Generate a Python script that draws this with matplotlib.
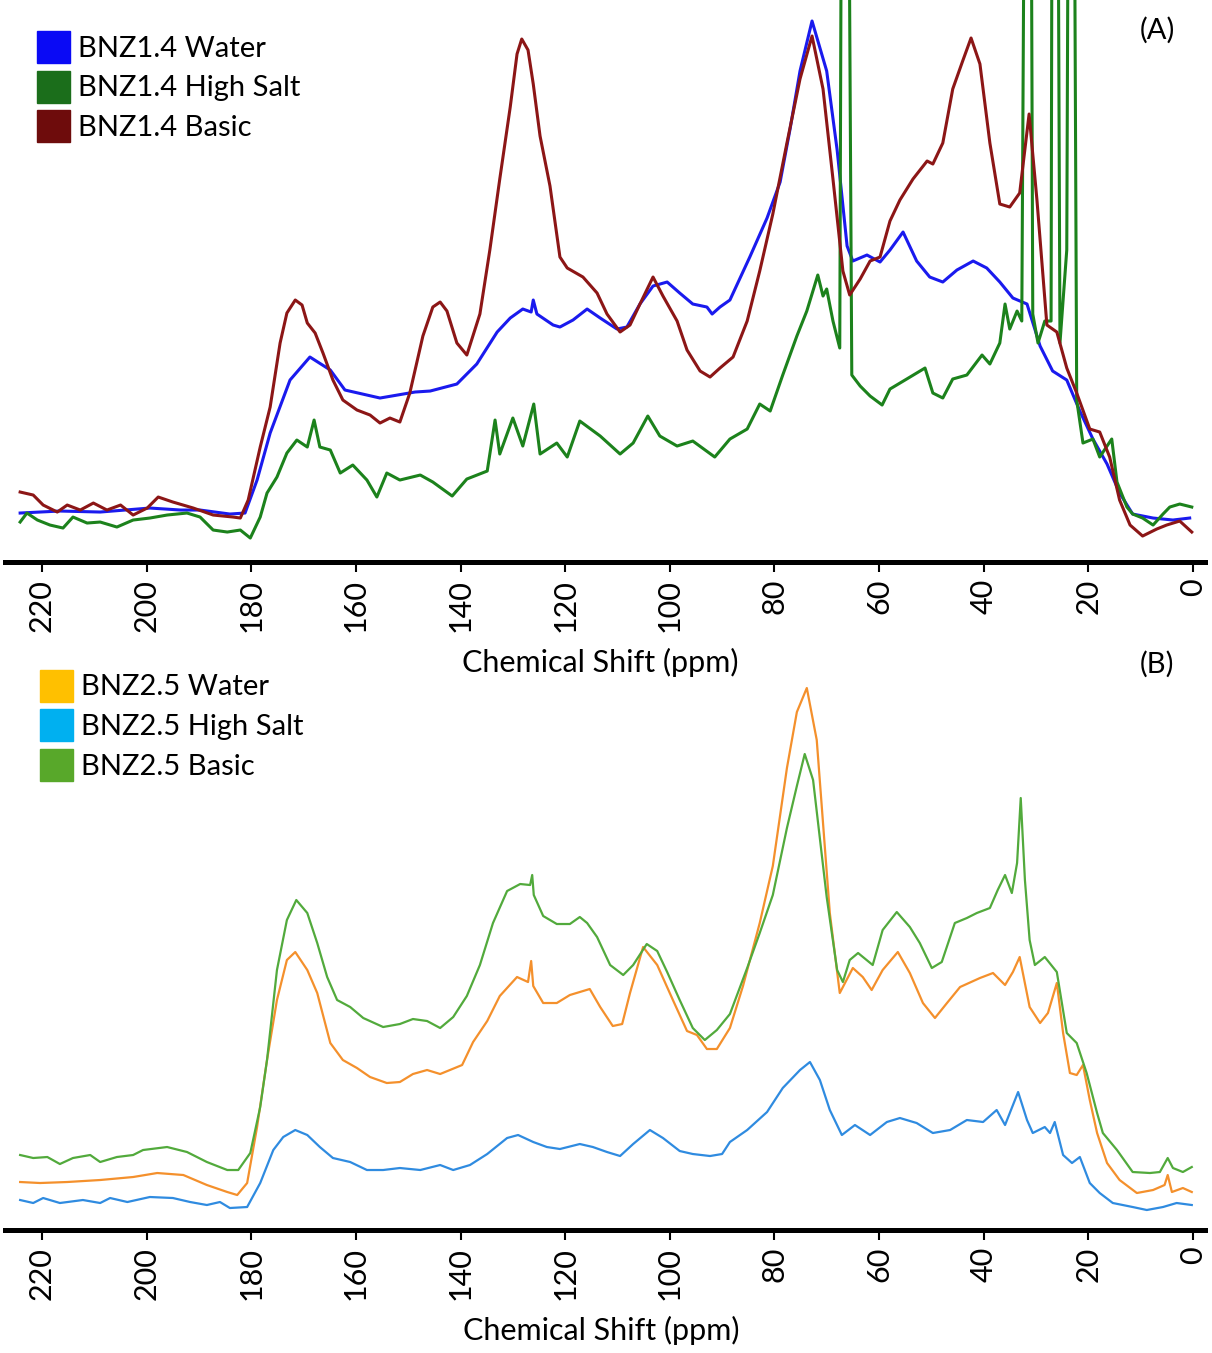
import matplotlib.pyplot as plt
from matplotlib.patches import Patch

plt.rcParams['font.family'] = ['Lato', 'DejaVu Sans']

### (A) BNZ1.4 spectra: chemical shift (ppm) and intensity (a.u.)
a_water_ppm = [224.2, 216.6, 208.9, 199.4, 193.5, 189.8, 184.1, 181.2, 178.9, 176.4,
               172.6, 168.8, 164.9, 162.1, 155.4, 148.7, 145.8, 140.7, 136.9, 133.0,
               130.5, 128.1, 126.5, 126.1, 125.4, 122.3, 121.0, 118.5, 115.8, 113.3,
               110.1, 108.2, 105.7, 103.2, 100.5, 98.1, 95.6, 92.9, 91.9, 90.4,
               88.5, 84.7, 81.4, 78.9, 77.0, 75.1, 72.8, 70.0, 68.0, 66.1,
               65.0, 62.3, 59.8, 57.9, 55.4, 52.8, 50.3, 47.8, 45.1, 42.0,
               39.4, 36.9, 34.4, 31.7, 29.2, 26.8, 24.1, 21.6, 19.1, 16.4,
               14.0, 11.5, 7.6, 3.8, 0.6]
a_water_int = [49, 51, 50, 54, 52, 52, 48, 49, 82, 129,
               182, 205, 192, 172, 164, 170, 171, 178, 198, 230,
               244, 253, 250, 262, 248, 237, 235, 242, 253, 244,
               233, 235, 258, 276, 280, 269, 258, 255, 248, 255,
               262, 305, 344, 380, 433, 491, 541, 491, 412, 316,
               301, 307, 300, 312, 330, 301, 285, 280, 292, 301,
               294, 280, 264, 258, 216, 191, 182, 151, 123, 98,
               69, 48, 44, 42, 44]

a_salt_ppm = [224.2, 222.9, 220.9, 218.5, 216.0, 214.1, 211.4, 208.9, 205.7, 202.6,
              199.4, 196.1, 192.3, 189.8, 187.3, 184.6, 182.1, 180.2, 178.3, 177.0,
              175.1, 173.2, 171.3, 169.3, 168.0, 166.9, 164.9, 163.0, 160.6, 157.9,
              156.0, 154.1, 151.6, 147.7, 145.3, 141.6, 138.8, 134.9, 133.4, 132.5,
              130.0, 128.1, 126.0, 124.8, 121.6, 119.6, 117.2, 113.3, 109.5, 107.0,
              104.2, 101.9, 98.6, 95.6, 91.4, 88.5, 85.2, 82.8, 80.8, 78.4,
              75.7, 73.8, 71.7, 70.7, 70.0, 68.8, 67.5, 67.0, 66.1, 65.2,
              63.6, 61.7, 59.4, 57.9, 54.7, 51.2, 49.7, 47.8, 45.9, 43.2,
              40.3, 38.8, 36.9, 35.9, 35.0, 33.6, 32.7, 31.9, 31.1, 30.6,
              29.6, 28.3, 27.1, 26.8, 26.0, 25.4, 24.1, 23.6, 22.9, 22.2,
              21.0, 19.1, 17.8, 15.5, 14.5, 12.6, 11.5, 9.6, 7.6, 5.7,
              4.4, 2.5, 0.2]
a_salt_int = [40, 49, 42, 37, 34, 45, 39, 40, 35, 42,
              44, 47, 49, 45, 32, 30, 32, 24, 45, 69,
              85, 109, 122, 115, 142, 115, 112, 89, 97, 82,
              65, 89, 82, 87, 80, 66, 83, 91, 142, 108,
              144, 116, 158, 108, 119, 105, 141, 126, 108, 119,
              146, 126, 116, 121, 105, 123, 133, 158, 151, 187,
              226, 251, 287, 266, 273, 241, 214, 1000, 1000, 187,
              176, 166, 157, 173, 183, 194, 169, 164, 183, 187,
              207, 198, 219, 258, 233, 251, 241, 1000, 1000, 248,
              219, 241, 241, 1000, 1000, 219, 312, 1000, 1000, 162,
              119, 123, 105, 123, 80, 55, 48, 44, 37, 48,
              55, 58, 55]

a_basic_ppm = [224.2, 221.7, 219.8, 217.1, 215.2, 212.7, 210.2, 207.6, 205.0, 202.6,
               199.9, 197.8, 195.0, 191.1, 187.3, 183.5, 182.1, 180.6, 178.3, 176.4,
               174.5, 173.2, 171.6, 170.3, 169.3, 167.8, 166.3, 164.4, 162.5, 159.8,
               157.3, 155.4, 153.5, 151.6, 149.7, 147.2, 145.3, 143.9, 142.6, 140.7,
               138.8, 136.3, 134.4, 132.5, 130.5, 129.2, 128.3, 127.1, 126.1, 124.8,
               122.9, 121.0, 119.6, 116.6, 113.9, 112.0, 109.5, 107.6, 105.7, 103.2,
               101.3, 98.6, 96.7, 94.2, 92.3, 90.4, 87.9, 85.2, 82.8, 80.3,
               77.6, 75.1, 72.8, 70.7, 68.8, 66.9, 65.6, 63.6, 61.7, 59.8,
               57.9, 56.0, 53.5, 50.8, 49.7, 47.8, 45.9, 44.0, 42.4, 40.7,
               38.8, 36.9, 35.0, 33.1, 31.3, 29.8, 27.9, 26.0, 24.1, 22.2,
               19.7, 17.8, 15.9, 14.0, 12.0, 9.6, 6.9, 5.0, 2.5, 0.2]
a_basic_int = [70, 67, 57, 50, 57, 52, 59, 52, 57, 47,
               54, 65, 60, 54, 47, 45, 44, 62, 115, 155,
               219, 249, 262, 257, 239, 229, 209, 182, 162, 152,
               147, 139, 144, 140, 169, 226, 255, 260, 251, 219,
               207, 248, 312, 383, 455, 508, 523, 512, 478, 426,
               376, 305, 294, 285, 269, 248, 230, 237, 258, 285,
               266, 241, 212, 191, 185, 194, 205, 241, 291, 348,
               419, 483, 526, 473, 383, 291, 267, 283, 301, 305,
               341, 362, 383, 401, 398, 419, 473, 501, 524, 498,
               419, 358, 355, 369, 448, 362, 237, 230, 194, 169,
               133, 130, 105, 62, 37, 26, 33, 37, 41, 30]

### (B) BNZ2.5 spectra
b_water_ppm = [224.2, 220.4, 215.2, 208.9, 202.6, 198.0, 193.0, 188.5, 184.6, 182.7,
               180.8, 178.9, 177.0, 175.1, 173.2, 171.6, 169.3, 167.4, 164.9, 162.5,
               159.8, 157.3, 154.1, 151.6, 149.1, 146.4, 143.9, 139.7, 137.6, 134.9,
               132.5, 129.2, 127.1, 126.5, 126.1, 124.2, 121.6, 119.1, 115.3, 113.3,
               110.9, 109.1, 107.6, 105.1, 102.4, 99.4, 96.7, 94.8, 92.9, 91.0,
               88.5, 86.0, 82.8, 80.3, 77.6, 75.7, 73.8, 71.9, 69.4, 67.5,
               65.0, 63.1, 61.4, 59.3, 56.4, 54.1, 51.6, 49.3, 47.0, 44.5,
               40.7, 38.2, 35.9, 34.4, 33.1, 31.2, 29.2, 27.7, 26.0, 24.8,
               23.5, 22.2, 21.0, 19.7, 18.3, 16.4, 14.0, 10.7, 7.6, 5.4,
               4.8, 4.0, 1.9, 0.2]
b_water_int = [48, 47, 48, 50, 53, 57, 55, 45, 38, 35,
               47, 103, 170, 230, 270, 278, 260, 237, 187, 170,
               162, 153, 147, 148, 156, 160, 156, 165, 188, 209,
               234, 253, 248, 269, 244, 227, 227, 235, 241, 223,
               204, 206, 237, 283, 265, 230, 199, 195, 181, 181,
               202, 244, 307, 364, 462, 518, 542, 490, 317, 237,
               262, 253, 240, 260, 278, 257, 227, 212, 227, 243,
               252, 257, 245, 258, 273, 223, 207, 217, 247, 197,
               157, 155, 165, 130, 97, 67, 50, 37, 40, 45,
               55, 38, 42, 38]

b_salt_ppm = [224.2, 221.7, 219.8, 216.6, 212.2, 208.9, 207.0, 203.7, 199.4, 195.0,
              191.7, 188.5, 186.0, 184.1, 180.8, 178.3, 175.8, 173.9, 171.6, 169.3,
              166.9, 164.4, 161.1, 157.9, 154.8, 151.6, 147.7, 143.9, 141.4, 138.2,
              134.9, 131.1, 129.0, 126.1, 123.5, 121.0, 117.2, 114.7, 112.0, 109.5,
              107.0, 103.8, 101.3, 98.1, 95.6, 92.3, 90.0, 88.5, 85.2, 81.4,
              78.4, 75.1, 73.2, 71.3, 69.4, 67.1, 64.6, 61.7, 58.5, 56.0,
              52.8, 49.7, 46.4, 43.2, 40.1, 37.5, 35.9, 33.4, 31.7, 30.6,
              28.3, 27.3, 26.4, 24.8, 23.1, 21.6, 19.7, 17.8, 15.3, 11.5,
              8.8, 5.7, 3.1, 0.2]
b_salt_int = [30, 27, 32, 27, 30, 27, 32, 28, 33, 32,
              28, 25, 28, 22, 23, 47, 80, 93, 100, 95,
              83, 72, 68, 60, 60, 62, 60, 65, 60, 65,
              76, 92, 95, 88, 83, 81, 86, 83, 78, 74,
              86, 100, 92, 79, 76, 74, 76, 88, 100, 118,
              142, 160, 168, 150, 120, 95, 105, 95, 108, 112,
              107, 97, 100, 110, 108, 120, 105, 138, 110, 97,
              103, 97, 108, 75, 67, 73, 47, 37, 27, 23,
              20, 23, 27, 25]

b_basic_ppm = [224.2, 221.7, 219.0, 216.6, 214.1, 210.8, 208.9, 205.7, 202.6, 200.7,
               196.1, 192.3, 188.5, 184.6, 182.5, 180.2, 178.3, 177.0, 175.1, 173.2,
               171.4, 169.3, 167.4, 165.5, 163.6, 161.1, 158.6, 154.8, 151.6, 149.1,
               146.4, 143.9, 141.4, 138.8, 136.3, 133.8, 131.1, 128.6, 126.7, 126.3,
               126.0, 124.2, 121.6, 119.1, 117.2, 115.8, 113.9, 111.4, 108.9, 107.0,
               104.4, 102.4, 100.5, 98.1, 95.6, 93.3, 91.0, 88.5, 85.2, 82.8,
               80.3, 77.6, 75.7, 74.2, 72.6, 70.0, 68.0, 66.9, 65.6, 64.0,
               61.2, 59.3, 56.6, 54.1, 52.2, 49.9, 48.0, 45.5, 43.2, 41.3,
               38.8, 37.3, 35.9, 34.6, 33.6, 32.9, 32.1, 31.2, 30.2, 28.3,
               26.0, 24.1, 22.2, 20.3, 18.3, 17.2, 14.5, 11.5, 8.2, 6.3,
               4.8, 3.8, 1.9, 0.2]
b_basic_int = [75, 72, 73, 66, 72, 75, 68, 73, 75, 80,
               83, 78, 68, 60, 60, 77, 123, 170, 260, 310,
               330, 317, 287, 253, 230, 223, 212, 203, 206, 211,
               209, 202, 213, 234, 265, 307, 339, 346, 345, 355,
               335, 314, 306, 306, 313, 307, 293, 265, 255, 265,
               286, 279, 258, 230, 202, 190, 200, 216, 262, 297,
               335, 402, 444, 476, 450, 333, 260, 248, 270, 277,
               265, 300, 318, 303, 287, 262, 268, 307, 312, 317,
               322, 340, 355, 337, 367, 432, 350, 290, 265, 273,
               258, 197, 187, 157, 117, 97, 80, 58, 57, 58,
               72, 62, 58, 63]

ticks = [0, 20, 40, 60, 80, 100, 120, 140, 160, 180, 200, 220]

fig = plt.figure(figsize=(12.12, 13.53), dpi=100)
ax_a = fig.add_axes([0.0041, 0.5846, 0.990, 0.4154])
ax_b = fig.add_axes([0.0041, 0.0909, 0.990, 0.4065])

ax_a.plot(a_water_ppm, a_water_int, color='#1a1aee', lw=2.2)
ax_a.plot(a_salt_ppm, a_salt_int, color='#1c821c', lw=2.2)
ax_a.plot(a_basic_ppm, a_basic_int, color='#8c1616', lw=2.2)
ax_a.set_ylim(0, 562)

ax_b.plot(b_water_ppm, b_water_int, color='#f4902c', lw=1.6)
ax_b.plot(b_salt_ppm, b_salt_int, color='#2f8be0', lw=1.6)
ax_b.plot(b_basic_ppm, b_basic_int, color='#52aa3c', lw=1.6)
ax_b.set_ylim(0, 550)

for ax in (ax_a, ax_b):
    ax.set_xlim(227.1, -2.3)
    ax.set_xticks(ticks)
    ax.set_xticklabels([str(t) for t in ticks], rotation=90, fontsize=22)
    ax.tick_params(axis='x', direction='out', length=7, width=1.5, pad=5)
    ax.set_yticks([])
    for side in ('left', 'right', 'top'):
        ax.spines[side].set_visible(False)
    ax.spines['bottom'].set_linewidth(3.6)
    ax.patch.set_alpha(0)

fig.text(0.495, 1 - 662 / 1353, 'Chemical Shift (ppm)', ha='center', va='center', fontsize=22)
fig.text(0.496, 1 - 1330 / 1353, 'Chemical Shift (ppm)', ha='center', va='center', fontsize=22)
fig.text(0.955, 1 - 30 / 1353, '(A)', ha='center', va='center', fontsize=21)
fig.text(0.955, 1 - 664 / 1353, '(B)', ha='center', va='center', fontsize=21)

# colour-square legends
leg_a = [Patch(color='#0a0af5', label='BNZ1.4 Water'),
         Patch(color='#1b6e1b', label='BNZ1.4 High Salt'),
         Patch(color='#6e0c0c', label='BNZ1.4 Basic')]
leg_b = [Patch(color='#ffc000', label='BNZ2.5 Water'),
         Patch(color='#00b0f0', label='BNZ2.5 High Salt'),
         Patch(color='#58a82a', label='BNZ2.5 Basic')]
leg_kw = dict(loc='upper left', frameon=False, fontsize=21, handlelength=1.12,
              handleheight=1.3, handletextpad=0.28, labelspacing=0.27,
              borderaxespad=0, borderpad=0)
fig.legend(handles=leg_a, bbox_to_anchor=(0.0305, 0.977), **leg_kw)
fig.legend(handles=leg_b, bbox_to_anchor=(0.033, 0.505), **leg_kw)

fig.savefig('out.png', dpi=100)
